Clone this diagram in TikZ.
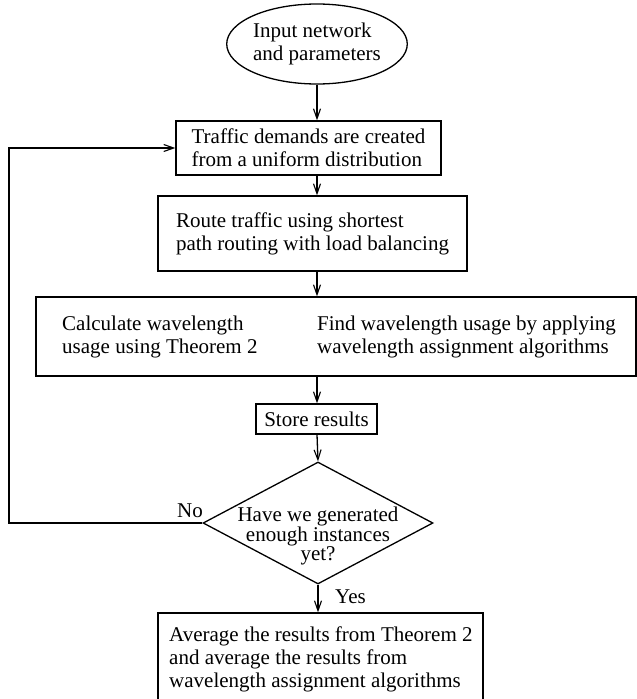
\documentclass[tikz,border=0pt]{standalone}
\usepackage{fontspec}
\setmainfont{Liberation Serif}
\usetikzlibrary{shapes.geometric,arrows.meta}
\begin{document}
\begin{tikzpicture}[x=1pt,y=-1pt,
  every node/.style={font=\fontsize{21}{23}\selectfont},
  box/.style={draw,line width=1.3pt,inner sep=0pt,align=left},
  txt/.style={inner sep=0pt,align=left},
  flow/.style={line width=1.3pt,-{Straight Barb[length=10pt,width=7pt,line width=1.1pt]}},
  plain/.style={line width=1.3pt}]
\useasboundingbox (0,0) rectangle (637,699);
\clip (0,0) rectangle (637,699);

\node[box,ellipse,minimum width=174pt,minimum height=80pt] (ell) at (317,44) {Input network\\and parameters};
\node[box,minimum width=265pt,minimum height=54pt] (b1) at (308.5,148) {Traffic demands are created\\from a uniform distribution};
\node[box,minimum width=309pt,minimum height=75pt] (b2) at (312.5,233.5) {Route traffic using shortest\\path routing with load balancing};
\node[box,minimum width=600pt,minimum height=79pt] (big) at (336,336.5) {};
\node[txt,anchor=west] (bl) at (62,336.5) {Calculate wavelength\\usage using Theorem 2};
\node[txt,anchor=west] (br) at (317,336.5) {Find wavelength usage by applying\\wavelength assignment algorithms};
\node[box,minimum width=121pt,minimum height=30pt] (st) at (316.5,419) {Store results};
\node[box,diamond,minimum width=230pt,minimum height=122pt] (dia) at (318,523) {};
\node[txt,align=center,font=\fontsize{21}{17.5}\selectfont] (dt) at (318,536) {Have we generated\\enough instances\\yet?};
\node[box,minimum width=325pt,minimum height=107pt] (fin) at (320.5,666.5) {};
\node[txt,anchor=north west] (ft) at (169,627) {Average the results from Theorem 2\\and average the results from\\wavelength assignment algorithms};
\node[txt] (no) at (190,511) {No};
\node[txt,anchor=west] (yes) at (335,597) {Yes};

\coordinate (l1) at (9,523);
\coordinate (l2) at (9,148);

\draw[flow] (ell.south) -- (ell.south |- b1.north);
\draw[flow] (ell.south |- b1.south) -- (ell.south |- b2.north);
\draw[flow] (ell.south |- b2.south) -- (ell.south |- big.north);
\draw[flow] (ell.south |- big.south) -- (ell.south |- st.north);
\draw[flow] (ell.south |- st.south) -- (dia.north);
\draw[flow] (dia.south) -- (dia.south |- fin.north);
\draw[flow] (dia.west) -- (l1) -- (l2) -- (b1.west);
\end{tikzpicture}
\end{document}
